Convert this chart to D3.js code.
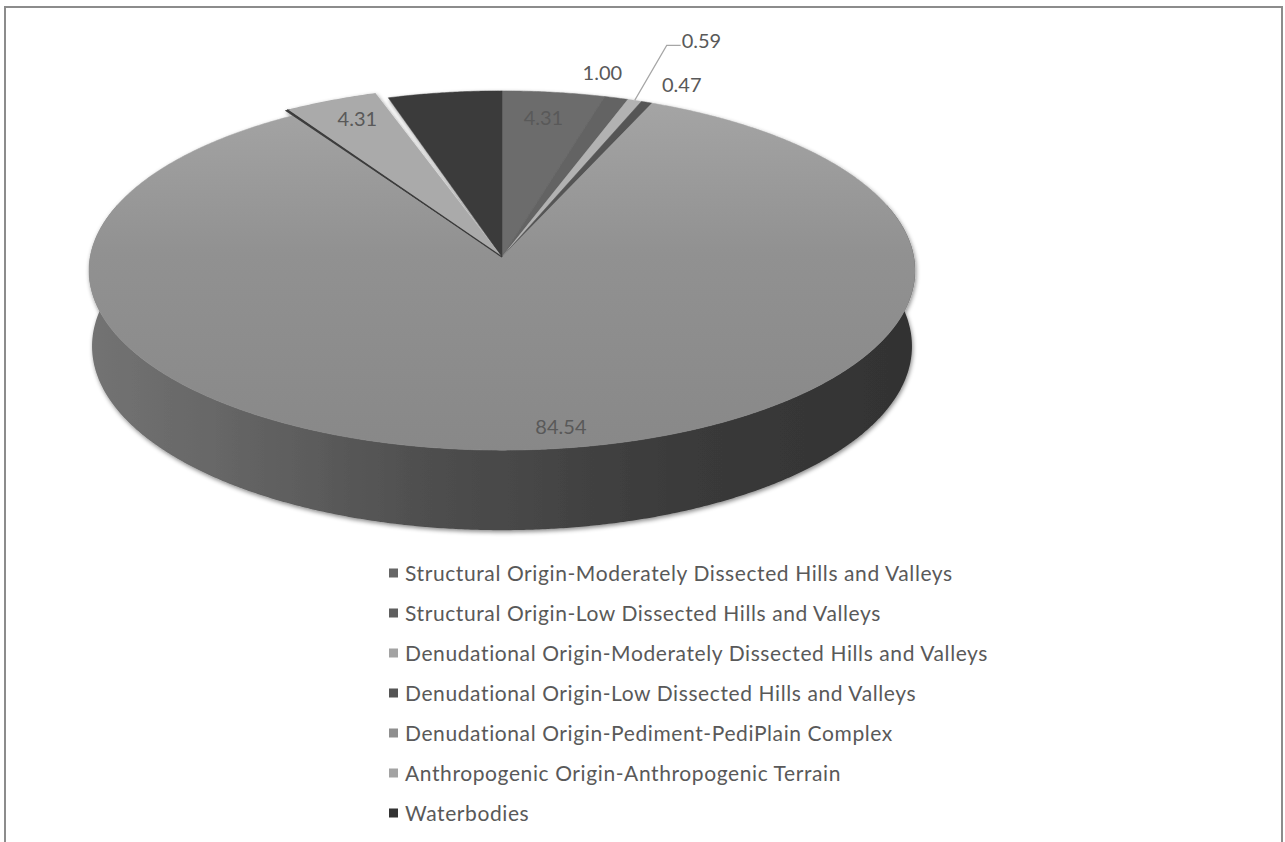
<!DOCTYPE html>
<html>
<head>
<meta charset="utf-8">
<script src="https://cdn.jsdelivr.net/npm/d3@7"></script>
<style>
  body { margin: 0; background: #ffffff; }
  svg { display: block; }
  text { font-family: Lato, "Open Sans", "Noto Sans", sans-serif; fill: #595959; }
</style>
</head>
<body>
<svg id="chart" width="1285" height="842"></svg>
<script>
// Landform classes and their share of the area (%)
const categories = [
  "Structural Origin-Moderately Dissected Hills and Valleys",
  "Structural Origin-Low Dissected Hills and Valleys",
  "Denudational Origin-Moderately Dissected Hills and Valleys",
  "Denudational Origin-Low Dissected Hills and Valleys",
  "Denudational Origin-Pediment-PediPlain Complex",
  "Anthropogenic Origin-Anthropogenic Terrain",
  "Waterbodies"
];
const values = [4.31, 1.00, 0.59, 0.47, 84.54, 4.31, 4.78];
const showLabel = [true, true, true, true, true, true, false];
const sliceColors = ["#6c6c6c", "#636363", "#b2b2b2", "#555555", "#999999", "#aaaaaa", "#3b3b3b"];
const legendColors = ["#666666", "#5f5f5f", "#a3a3a3", "#555555", "#8f8f8f", "#a3a3a3", "#333333"];

const svg = d3.select("#chart");
const W = 1285, H = 842;

// Perspective camera for the tilted 3-D disc (radius = 1 unit)
const view = { cx: 502, cy: 257, D: 11.98, depth: 0.205, elev: 25.7 * Math.PI / 180, F: 4934 };
const ce = Math.cos(view.elev), se = Math.sin(view.elev);
function project(theta, r, z, off) {
  const ox = off ? off[0] : 0, oy = off ? off[1] : 0;
  const X = r * Math.sin(theta) + ox, Y = r * Math.cos(theta) + oy;
  const dep = Y * ce + view.D - z * se;
  return [view.cx + view.F * X / dep, view.cy - view.F * (Y * se + z * ce) / dep];
}
function arcPoints(a, b, r, z, off) {
  const n = Math.max(2, Math.ceil(Math.abs(b - a) / (0.4 * Math.PI / 180)));
  return d3.range(n + 1).map(i => project(a + (b - a) * i / n, r, z, off));
}
const line = d3.line();

const pie = d3.pie().sort(null).value(d => d);
const arcs = pie(values);

// Frame
svg.append("rect").attr("x", 5).attr("y", 7).attr("width", W - 8).attr("height", H)
  .attr("fill", "#ffffff").attr("stroke", "#8c8c8c").attr("stroke-width", 2);

const defs = svg.append("defs");
const sideGrad = defs.append("linearGradient").attr("id", "sideGrad")
  .attr("gradientUnits", "userSpaceOnUse").attr("x1", 90).attr("x2", 916).attr("y1", 0).attr("y2", 0);
[[0, "#737373"], [0.15, "#676767"], [0.4, "#4f4f4f"], [0.7, "#3b3b3b"], [1, "#323232"]]
  .forEach(([o, c]) => sideGrad.append("stop").attr("offset", o).attr("stop-color", c));
const topGrad = defs.append("linearGradient").attr("id", "topGrad")
  .attr("gradientUnits", "userSpaceOnUse").attr("x1", 0).attr("x2", 0).attr("y1", 91).attr("y2", 452);
[[0, "#a6a6a6"], [0.45, "#919191"], [1, "#888888"]]
  .forEach(([o, c]) => topGrad.append("stop").attr("offset", o).attr("stop-color", c));
const shadow = defs.append("filter").attr("id", "shadow")
  .attr("x", "-10%").attr("y", "-10%").attr("width", "120%").attr("height", "130%");
shadow.append("feDropShadow").attr("dx", 1).attr("dy", 2).attr("stdDeviation", 2.2)
  .attr("flood-color", "#000").attr("flood-opacity", 0.45);

const g = svg.append("g").attr("filter", "url(#shadow)");

// Outer walls (front-facing part only)
const lo = Math.PI / 2 - 0.3, hi = 3 * Math.PI / 2 + 0.3;
arcs.forEach((d, i) => {
  const a = Math.max(d.startAngle, lo), b = Math.min(d.endAngle, hi);
  if (b <= a) return;
  const pts = arcPoints(a, b, 1, 0).concat(arcPoints(b, a, 1, -view.depth));
  g.append("path").attr("d", line(pts) + "Z")
    .attr("fill", i === 4 ? "url(#sideGrad)" : d3.color(sliceColors[i]).darker(0.6));
});

// Top faces; the anthropogenic slice is slightly lifted out of the disc
const lifted = 5;
const liftR = 1.04, liftGap = 1.3 * Math.PI / 180;
arcs.forEach((d, i) => {
  if (i === lifted) return;
  const pts = [project(0, 0, 0)].concat(arcPoints(d.startAngle, d.endAngle, 1, 0));
  g.append("path").attr("d", line(pts) + "Z")
    .attr("fill", i === 4 ? "url(#topGrad)" : sliceColors[i])
    .attr("stroke", i === 4 ? "url(#topGrad)" : sliceColors[i]).attr("stroke-width", 0.5);
});
{
  const d = arcs[lifted];
  const apex = project(0, 0, 0);
  const cornerIn = project(d.startAngle, 1, 0);
  const cornerOut = project(d.startAngle, liftR, 0);
  const cornerSide = project(d.startAngle + 0.9 * Math.PI / 180, liftR, 0);
  g.append("path").attr("d", line([apex, cornerIn, cornerOut, cornerSide]) + "Z")
    .attr("fill", "#3f3f3f");
  const pts = [apex].concat(arcPoints(d.startAngle + 0.4 * Math.PI / 180, d.endAngle - liftGap, liftR, 0));
  g.append("path").attr("d", line(pts) + "Z").attr("fill", sliceColors[lifted]);
  g.append("path").attr("d", line([apex, project(d.startAngle + 0.4 * Math.PI / 180, liftR, 0)]))
    .attr("stroke", "#3a3a3a").attr("stroke-width", 1.4).attr("fill", "none");
}

// Data labels
const fmt = d3.format(".2f");
// placement: inside at a radius fraction, or outside from the rim with a pixel offset
const labelPlace = [
  { r: 0.85, dx: -3, dy: 2 },
  { r: 1.0, dx: -14, dy: -25 },
  { r: 1.0, dx: 47, dy: -59, leader: true },
  { r: 1.0, dx: 35, dy: -17 },
  { r: 0.9, dx: 25, dy: -2 },
  { r: 0.85, dx: -5, dy: -8 },
  { r: 0.85, dx: 0, dy: 0 }
];
const lg = svg.append("g");
arcs.forEach((d, i) => {
  if (!showLabel[i]) return;
  const mid = (d.startAngle + d.endAngle) / 2;
  const p = labelPlace[i];
  const [x0, y0] = project(mid, p.r, 0);
  const x = x0 + p.dx, y = y0 + p.dy;
  if (p.leader) {
    lg.append("path").attr("d", line([[x0, y0], [x - 15, y + 4], [x - 1, y + 4]]))
      .attr("fill", "none").attr("stroke", "#a6a6a6").attr("stroke-width", 1.2);
    lg.append("text").attr("x", x).attr("y", y).attr("dy", "0.35em")
      .attr("text-anchor", "start").attr("font-size", 20).text(fmt(d.data));
  } else {
    lg.append("text").attr("x", x).attr("y", y).attr("dy", "0.35em")
      .attr("text-anchor", "middle").attr("font-size", 20).text(fmt(d.data));
  }
});

// Legend
const legY = d3.scalePoint().domain(categories).range([573, 813]);
const leg = svg.append("g");
categories.forEach((c, i) => {
  const y = legY(c);
  leg.append("rect").attr("x", 389).attr("y", y - 4.5).attr("width", 9).attr("height", 9)
    .attr("fill", legendColors[i]);
  leg.append("text").attr("x", 405).attr("y", y).attr("dy", "0.36em")
    .attr("font-size", 21).attr("letter-spacing", 0.6).text(c);
});
</script>
</body>
</html>
